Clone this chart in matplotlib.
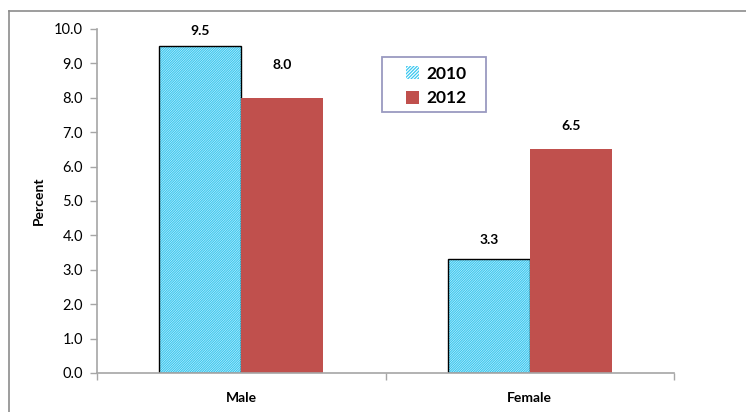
import numpy as np
import matplotlib.pyplot as plt
from matplotlib.patches import Patch, Rectangle

plt.rcParams['font.family'] = ['Lato', 'DejaVu Sans']
plt.rcParams['hatch.linewidth'] = 0.9

categories = ['Male', 'Female']
series = ['2010', '2012']
values_2010 = [9.5, 3.3]
values_2012 = [8.0, 6.5]

# label offset above bar top, in pixels (Excel labels sit unevenly)
lab_off_2010 = [15, 19]
lab_off_2012 = [33, 23]

cyan = '#3cc8f0'
red = '#c0504d'
grey = '#a6a6a6'
hatch = '/' * 14

fig = plt.figure(figsize=(7.46, 4.12), dpi=100)
ax = fig.add_axes([97 / 746, 1 - 373 / 412, (674 - 97) / 746, (373 - 29) / 412])

x = np.arange(len(categories))
w = 0.284

ax.bar(x - w / 2, values_2010, w, color='white', edgecolor=cyan, hatch=hatch, linewidth=0)
ax.bar(x - w / 2, values_2010, w, fill=False, edgecolor='black', linewidth=1.0)
ax.bar(x + w / 2, values_2012, w, color=red, linewidth=0)

for i in range(len(categories)):
    ax.annotate(f'{values_2010[i]:.1f}', (x[i] - w / 2, values_2010[i]),
                xytext=(0, lab_off_2010[i] * 0.72), textcoords='offset points',
                ha='center', va='center', fontsize=10, fontweight='bold')
    ax.annotate(f'{values_2012[i]:.1f}', (x[i] + w / 2, values_2012[i]),
                xytext=(0, lab_off_2012[i] * 0.72), textcoords='offset points',
                ha='center', va='center', fontsize=10, fontweight='bold')

ax.set_xlim(-0.5, 1.5)
ax.set_ylim(0, 10)
ax.set_yticks(np.arange(0, 10.1, 1))
ax.set_yticklabels([f'{v:.1f}' for v in np.arange(0, 10.1, 1)], fontsize=10.5)
ax.set_xticks([-0.5, 0.5, 1.5])
ax.set_xticklabels([])
ax.tick_params(axis='both', color=grey, length=5, width=1)
ax.tick_params(axis='y', pad=5)
for t, c in zip(x, categories):
    ax.text(t, -0.72, c, ha='center', va='center', fontsize=10, fontweight='bold')

for s in ['top', 'right']:
    ax.spines[s].set_visible(False)
for s in ['left', 'bottom']:
    ax.spines[s].set_color(grey)
    ax.spines[s].set_linewidth(1.2)

ax.set_ylabel('Percent', fontsize=10, fontweight='bold', labelpad=7)

handles = [Patch(facecolor='white', edgecolor=cyan, hatch='/' * 10, linewidth=0),
           Patch(facecolor=red, linewidth=0)]
leg = fig.legend(handles, series, loc='center', bbox_to_anchor=(436 / 746, 1 - 86 / 412),
                 frameon=False, prop={'weight': 'bold', 'size': 12.5},
                 handlelength=0.75, handleheight=0.75, handletextpad=0.45,
                 borderpad=0.3, labelspacing=0.5, borderaxespad=0)
fig.add_artist(Rectangle((382 / 746, 1 - 112 / 412), 104 / 746, 55 / 412,
                         transform=fig.transFigure, fill=False,
                         edgecolor='#9a9ac0', lw=1.3))

# outer chart-area border (only top and left edges visible in the crop)
fig.add_artist(plt.Line2D([9 / 746, 1], [1 - 11 / 412, 1 - 11 / 412],
                          transform=fig.transFigure, color='#8c8c8c', lw=1.2))
fig.add_artist(plt.Line2D([9 / 746, 9 / 746], [0, 1 - 11 / 412],
                          transform=fig.transFigure, color='#8c8c8c', lw=1.2))

fig.savefig('out.png', dpi=100)
